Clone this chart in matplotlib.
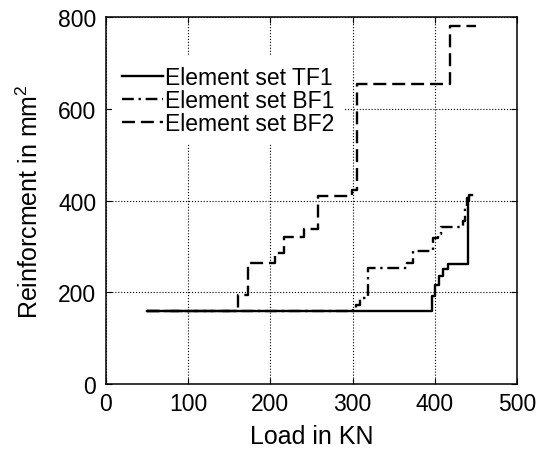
import matplotlib
matplotlib.use('Agg')
import matplotlib.pyplot as plt

plt.rcParams['font.family'] = ['Liberation Sans', 'DejaVu Sans']
plt.rcParams['mathtext.default'] = 'regular'

# step curves (load in KN, reinforcement in mm^2)
tf1_load = [50, 397, 400, 405, 410, 416, 440, 442, 445]
tf1_reinf = [160, 192, 215, 235, 251, 262, 400, 412, 412]

bf1_load = [50, 301, 304, 309, 319, 366, 374, 398, 404, 408, 434, 437, 439, 442, 445]
bf1_reinf = [160, 165, 173, 188, 253, 265, 291, 319, 327, 342, 355, 385, 405, 410, 410]

bf2_load = [50, 161, 173, 206, 216, 241, 258, 299, 305, 419, 450]
bf2_reinf = [160, 195, 263, 285, 321, 339, 411, 424, 655, 780, 780]

xticks = [0, 100, 200, 300, 400, 500]
yticks = [0, 200, 400, 600, 800]

fig = plt.figure(figsize=(5.38, 4.52), dpi=100)
ax = fig.add_axes([0.197, 0.148, 0.764, 0.812])

ax.plot(tf1_load, tf1_reinf, drawstyle='steps-post', color='k', lw=1.7,
        label='Element set TF1')
ax.plot(bf1_load, bf1_reinf, drawstyle='steps-post', color='k', lw=1.7,
        dashes=(5, 2, 1, 2), label='Element set BF1')
ax.plot(bf2_load, bf2_reinf, drawstyle='steps-post', color='k', lw=1.7,
        dashes=(5.5, 2.5), label='Element set BF2')

ax.set_xlim(0, 500)
ax.set_ylim(0, 800)
ax.set_xticks(xticks)
ax.set_yticks(yticks)
ax.grid(True, color='k', linestyle=':', linewidth=0.8)
ax.tick_params(direction='in', length=4, top=True, right=True, labelsize=16.5)
ax.tick_params(axis='x', pad=6)
ax.tick_params(axis='y', pad=7)
for s in ax.spines.values():
    s.set_linewidth(1.1)

ax.set_xlabel('Load in KN', fontsize=18, labelpad=6)
ax.set_ylabel('Reinforcment in mm$^2$', fontsize=18, labelpad=11)

leg = ax.legend(loc='upper left', bbox_to_anchor=(0.0146, 0.894), borderaxespad=0,
                fontsize=16.5, frameon=True, fancybox=False, framealpha=1,
                handlelength=1.8, handletextpad=0.1, labelspacing=0.0,
                borderpad=0.42)
leg.get_frame().set_edgecolor('white')
leg.get_frame().set_linewidth(0)

fig.savefig('out.png', dpi=100)
